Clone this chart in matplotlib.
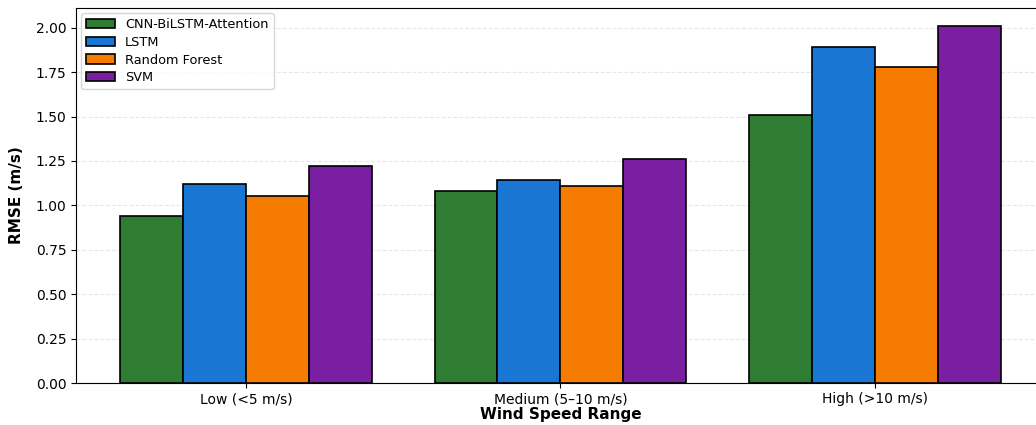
import matplotlib
matplotlib.use("Agg")
import matplotlib.pyplot as plt
import numpy as np

categories = ["Low (<5 m/s)", "Medium (5\u201310 m/s)", "High (>10 m/s)"]
models = ["CNN-BiLSTM-Attention", "LSTM", "Random Forest", "SVM"]
rmse_cnn_bilstm_att = [0.94, 1.08, 1.51]
rmse_lstm = [1.12, 1.14, 1.89]
rmse_random_forest = [1.05, 1.11, 1.78]
rmse_svm = [1.22, 1.26, 2.01]
colors = ["#2e7d32", "#1976d2", "#f57c00", "#7b1fa2"]

series = [rmse_cnn_bilstm_att, rmse_lstm, rmse_random_forest, rmse_svm]

fig = plt.figure(figsize=(10.36, 4.25), dpi=100)
ax = fig.add_axes([0.0734, 0.0988, 0.935, 0.882])

x = np.arange(len(categories))
width = 0.2
for i, (vals, name, c) in enumerate(zip(series, models, colors)):
    ax.bar(x + (i - 1.5) * width, vals, width, label=name, color=c,
           edgecolor="black", linewidth=1.2, zorder=3)

ax.set_xticks(x)
ax.set_xticklabels(categories, fontsize=10)
ax.tick_params(axis="x", pad=3)
ax.tick_params(axis="y", labelsize=10)
ax.set_yticks(np.arange(0, 2.01, 0.25))
ax.set_ylim(0, 2.11)
ax.set_xlim(-0.54, 2.54)
ax.set_xlabel("Wind Speed Range", fontsize=11, fontweight="bold", labelpad=1)
ax.set_ylabel("RMSE (m/s)", fontsize=11, fontweight="bold", labelpad=8)
ax.grid(axis="y", linestyle="--", alpha=0.3, zorder=0)
ax.legend(loc="upper left", fontsize=9.3, framealpha=0.8,
          labelspacing=0.35, handlelength=2.2, borderaxespad=0.4)

fig.savefig("out.png", dpi=100)
